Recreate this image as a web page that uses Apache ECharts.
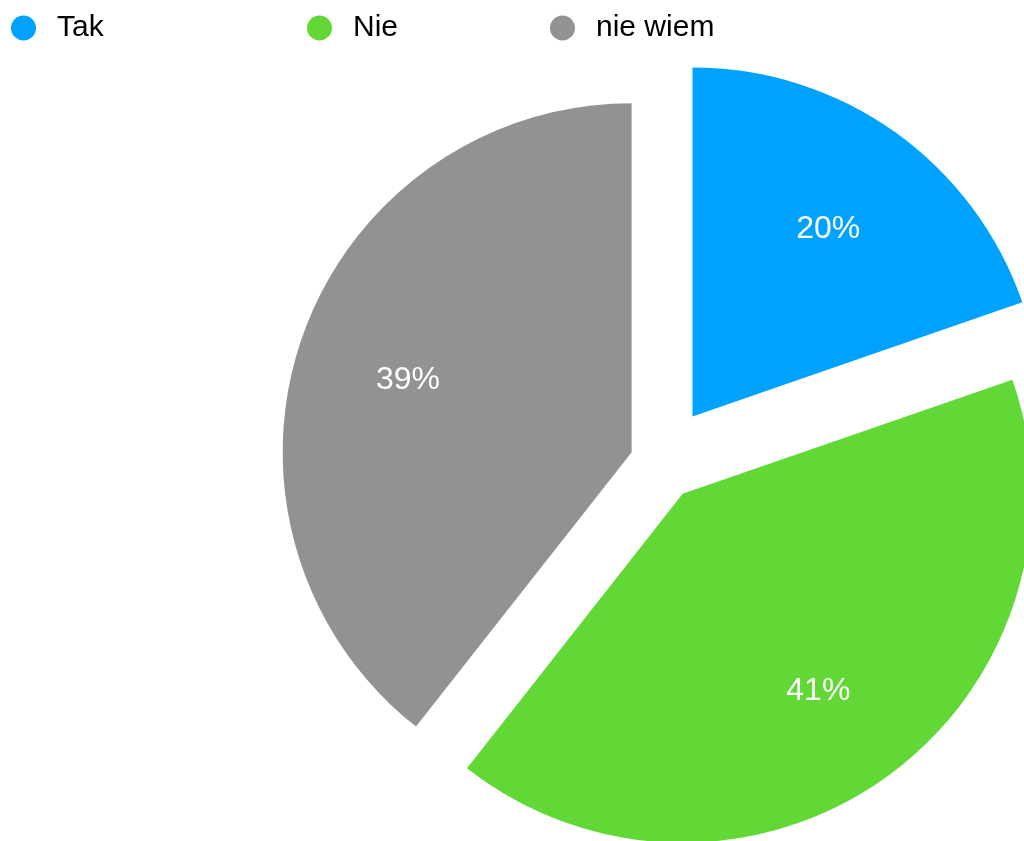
<!DOCTYPE html>
<html>
<head>
<meta charset="utf-8">
<script src="https://cdn.jsdelivr.net/npm/echarts@6/dist/echarts.min.js"></script>
<style>
html,body{margin:0;padding:0;background:#fff;}
#chart{width:1024px;height:841px;}
</style>
</head>
<body>
<div id="chart"></div>
<script>
const categories = ['Tak', 'Nie', 'nie wiem'];
const values = [19.7, 40.9, 39.4];
const colors = ['#00a2ff', '#61d836', '#929292'];
const explode = [56, 39, 30];
const legendLefts = [11, 307, 550];

const FONT = '"Liberation Sans", Arial, Helvetica, sans-serif';
const CENTER = [660, 462];
const LABEL_CENTER = [659, 467];
const R = 349;

function fmt(p) { return Math.round(p.percent) + '%'; }

const series = [];
categories.forEach((name, i) => {
  series.push({
    type: 'pie',
    center: CENTER,
    radius: R,
    startAngle: 90,
    clockwise: true,
    selectedMode: 'multiple',
    selectedOffset: explode[i],
    avoidLabelOverlap: false,
    emphasis: { disabled: true },
    label: { show: false },
    labelLine: { show: false },
    z: 2,
    data: categories.map((n, j) => ({
      name: n,
      value: values[j],
      selected: j === i,
      itemStyle: { color: j === i ? colors[j] : 'rgba(0,0,0,0)', borderWidth: 0 }
    }))
  });
});
categories.forEach((name, i) => {
  series.push({
    type: 'pie',
    center: LABEL_CENTER,
    radius: R * 4 / 3,
    startAngle: 90,
    clockwise: true,
    selectedMode: 'multiple',
    selectedOffset: explode[i],
    avoidLabelOverlap: false,
    silent: true,
    emphasis: { disabled: true },
    labelLine: { show: false },
    z: 3,
    data: categories.map((n, j) => ({
      name: n,
      value: values[j],
      selected: j === i,
      itemStyle: { color: 'rgba(0,0,0,0)', borderWidth: 0 },
      label: {
        show: j === i,
        position: 'inside',
        color: '#ffffff',
        fontSize: 32,
        fontFamily: FONT,
        formatter: fmt
      }
    }))
  });
});

const legends = categories.map((n, i) => ({
  left: legendLefts[i],
  top: 13,
  padding: 0,
  orient: 'horizontal',
  icon: 'circle',
  itemWidth: 57,
  itemHeight: 25,
  selectedMode: false,
  textStyle: { fontSize: 30, color: '#000', fontFamily: FONT },
  data: [{ name: n, itemStyle: { color: colors[i] } }]
}));

const chart = echarts.init(document.getElementById('chart'), null, { renderer: 'canvas' });
chart.setOption({
  animation: false,
  backgroundColor: '#ffffff',
  legend: legends,
  series: series
});
</script>
</body>
</html>
